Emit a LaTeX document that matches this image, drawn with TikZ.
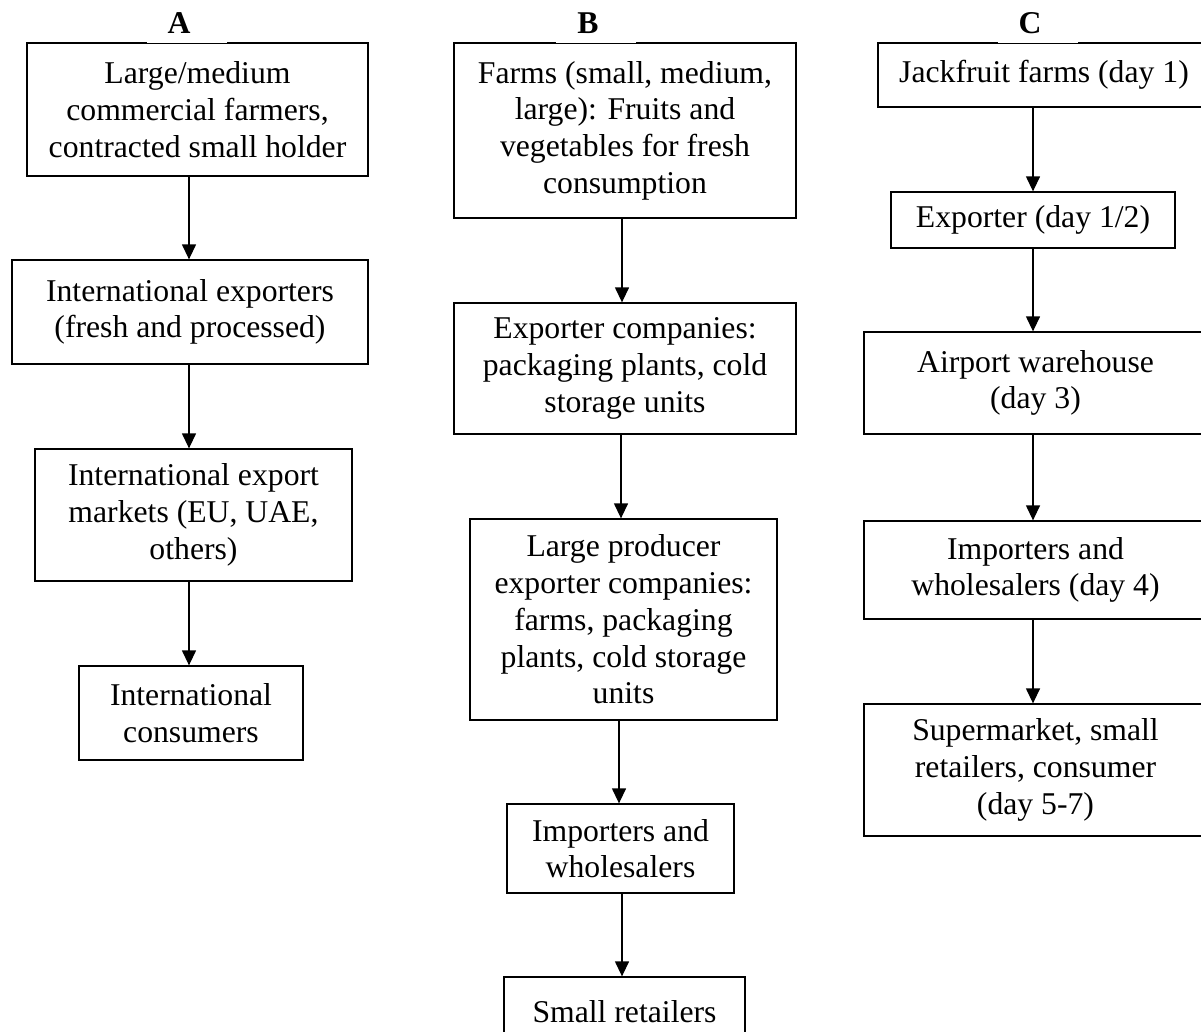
\documentclass[tikz,border=0pt]{standalone}
\usepackage{fontspec}
\setmainfont{Liberation Serif}
\usetikzlibrary{arrows.meta}
\tikzset{
  box/.style={draw=black, line width=1.3pt, align=center, inner sep=0pt,
    font=\fontsize{31.7}{36.7}\selectfont},
  arr/.style={line width=1.3pt, -{Triangle[length=15pt,width=14pt]}},
  ttl/.style={fill=white, minimum width=80pt, inner xsep=0pt, inner ysep=10pt,
    anchor=base, font=\fontsize{31.7}{33}\selectfont\bfseries}
}
\begin{document}
\begin{tikzpicture}[x=1pt,y=-1pt]
\fill[white] (0,0) rectangle (1201,1031);
\useasboundingbox (0,0) rectangle (1201,1031);
% column A
\node[box, minimum width=341pt, minimum height=133pt] (a1) at (197.5,109.5)
  {Large/medium\\commercial farmers,\\contracted small holder};
\node[box, minimum width=356pt, minimum height=104pt] (a2) at (190,312)
  {International exporters\\(fresh and processed)};
\node[box, minimum width=317pt, minimum height=132pt] (a3) at (193.5,515)
  {International export\\markets (EU, UAE,\\others)};
\node[box, minimum width=224pt, minimum height=94pt] (a4) at (191,713)
  {International\\consumers};
% column B
\node[box, minimum width=342pt, minimum height=175pt] (b1) at (625,130.5)
  {Farms (small, medium,\\large): Fruits and\\vegetables for fresh\\consumption};
\node[box, minimum width=342pt, minimum height=131pt] (b2) at (625,368.5)
  {Exporter companies:\\packaging plants, cold\\storage units};
\node[box, minimum width=307pt, minimum height=201pt] (b3) at (623.5,619.5)
  {Large producer\\exporter companies:\\farms, packaging\\plants, cold storage\\units};
\node[box, minimum width=227pt, minimum height=89pt] (b4) at (620.5,848.5)
  {Importers and\\wholesalers};
\node[box, minimum width=241pt, minimum height=70pt] (b5) at (624.5,1012)
  {Small retailers};
% column C
\node[box, minimum width=332pt, minimum height=64pt] (c1) at (1044,75)
  {Jackfruit farms (day 1)};
\node[box, minimum width=284pt, minimum height=56pt] (c2) at (1033,220)
  {Exporter (day 1/2)};
\node[box, minimum width=343pt, minimum height=102pt] (c3) at (1035.5,383)
  {Airport warehouse\\(day 3)};
\node[box, minimum width=343pt, minimum height=98pt] (c4) at (1035.5,570)
  {Importers and\\wholesalers (day 4)};
\node[box, minimum width=343pt, minimum height=132pt] (c5) at (1035.5,770)
  {Supermarket, small\\retailers, consumer\\(day 5-7)};
% arrow columns
\coordinate (xa) at (189,0);
\coordinate (xb1) at (622,0);
\coordinate (xb2) at (621,0);
\coordinate (xb3) at (619,0);
\coordinate (xc) at (1033,0);
\draw[arr] (a1.south -| xa) -- (a2.north -| xa);
\draw[arr] (a2.south -| xa) -- (a3.north -| xa);
\draw[arr] (a3.south -| xa) -- (a4.north -| xa);
\draw[arr] (b1.south -| xb1) -- (b2.north -| xb1);
\draw[arr] (b2.south -| xb2) -- (b3.north -| xb2);
\draw[arr] (b3.south -| xb3) -- (b4.north -| xb3);
\draw[arr] (b4.south -| xb1) -- (b5.north -| xb1);
\draw[arr] (c1.south -| xc) -- (c2.north -| xc);
\draw[arr] (c2.south -| xc) -- (c3.north -| xc);
\draw[arr] (c3.south -| xc) -- (c4.north -| xc);
\draw[arr] (c4.south -| xc) -- (c5.north -| xc);
% titles
\node[ttl] (tA) at (187,33) {A\hspace*{16pt}};
\node[ttl] (tB) at (596,33) {B\hspace*{16pt}};
\node[ttl] (tC) at (1038,33) {C\hspace*{16pt}};
\end{tikzpicture}
\end{document}
